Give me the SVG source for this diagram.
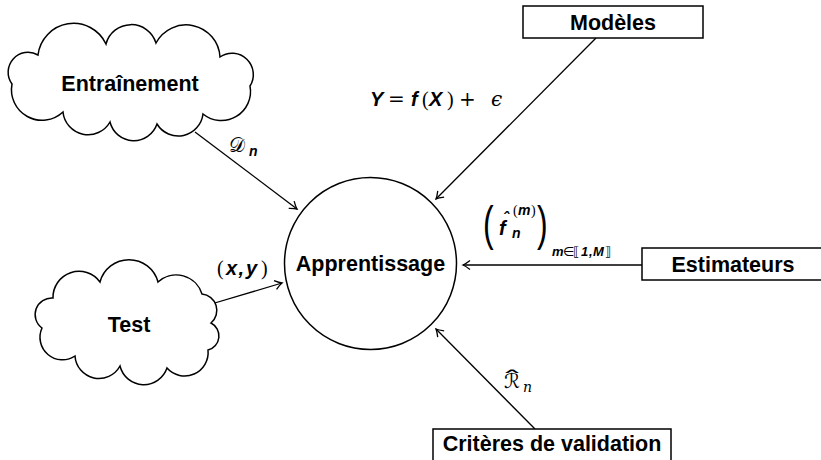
<svg xmlns="http://www.w3.org/2000/svg" width="821" height="460" viewBox="0 0 821 460">
<style>
.shape{fill:#fff;stroke:#000;stroke-width:1.5}
.edge{fill:none;stroke:#000;stroke-width:1.3}
.lbl{font-family:"Liberation Sans",Arial,sans-serif;font-weight:bold;font-size:21.5px;fill:#000}
.bi{font-family:"Liberation Sans",Arial,sans-serif;font-weight:bold;font-style:italic;fill:#000}
.rm{font-family:"Liberation Serif","DejaVu Serif",serif;fill:#000}
.op{font-family:"DejaVu Serif","Liberation Serif",serif;fill:#000}
.sans{font-family:"Liberation Sans",Arial,sans-serif;fill:#000}
.it{font-family:"DejaVu Serif","Liberation Serif",serif;font-style:italic;fill:#000}
.cal{font-family:"DejaVu Sans","Noto Sans",sans-serif;fill:#000}
</style>
<defs>
<marker id="arr" markerUnits="userSpaceOnUse" viewBox="-9 -6 11 12" refX="0" refY="0" markerWidth="11" markerHeight="12" orient="auto">
<path d="M-7,-4.5 Q-2.5,-1 0,0 Q-2.5,1 -7,4.5" fill="none" stroke="#000" stroke-width="1.3"/>
</marker>
</defs>
<rect width="821" height="460" fill="#fff"/>
<g id="connectors">
<line class="edge" x1="195" y1="132" x2="297" y2="209" marker-end="url(#arr)"/>
<line class="edge" x1="596" y1="38" x2="436" y2="199" marker-end="url(#arr)"/>
<line class="edge" x1="642" y1="265" x2="463" y2="265" marker-end="url(#arr)"/>
<line class="edge" x1="208" y1="305" x2="282" y2="283" marker-end="url(#arr)"/>
<line class="edge" x1="535" y1="429" x2="436" y2="329" marker-end="url(#arr)"/>
</g>
<g id="entrainement">
<path class="shape" d="M106,44 A26,26 0 0 1 156,43 A34,34 0 0 1 220,57 A21.3,21.3 0 0 1 250,86 A29.1,29.1 0 0 1 203,114 A24.9,24.9 0 0 1 157,124 A24.5,24.5 0 0 1 110,122 A25.2,25.2 0 0 1 63,112 A30.6,30.6 0 0 1 12,84 A19.9,19.9 0 0 1 38,55 A35.8,35.8 0 0 1 106,44 Z"/>
<text class="lbl" x="130" y="90.5" text-anchor="middle">Entraînement</text>
</g>
<g id="test">
<path class="shape" d="M53,298 A26,26 0 0 1 100,282 A30,30 0 0 1 158,282 A27,27 0 0 1 202,294 A16.5,16.5 0 0 1 211,323 A14.5,14.5 0 0 1 208,350 A23.5,23.5 0 0 1 167,368 A24.5,24.5 0 0 1 120,366 A24,24 0 0 1 75,356 A22.5,22.5 0 0 1 42,328 A16.6,16.6 0 0 1 53,298 Z"/>
<text class="lbl" x="129" y="332" text-anchor="middle">Test</text>
</g>
<g id="apprentissage">
<circle class="shape" cx="370.5" cy="263.5" r="86"/>
<text class="lbl" x="370.5" y="270.5" text-anchor="middle">Apprentissage</text>
</g>
<g id="modeles">
<rect class="shape" x="523" y="6" width="180" height="32"/>
<text class="lbl" x="613" y="29.5" text-anchor="middle">Modèles</text>
</g>
<g id="estimateurs">
<rect class="shape" x="642" y="248" width="182" height="32"/>
<text class="lbl" x="733" y="271.5" text-anchor="middle">Estimateurs</text>
</g>
<g id="criteres">
<rect class="shape" x="433" y="429" width="238" height="34"/>
<text class="lbl" x="552" y="451" text-anchor="middle">Critères de validation</text>
</g>
<g id="labels">
<text font-size="20" y="106"><tspan class="bi" x="370">Y</tspan><tspan class="op" x="388">=</tspan><tspan class="bi" x="411">f</tspan><tspan class="rm" x="422">(</tspan><tspan class="bi" x="429">X</tspan><tspan class="rm" x="447">)</tspan><tspan class="op" x="459">+</tspan><tspan class="it" x="491">ϵ</tspan></text>
<text y="152"><tspan class="cal" x="229" font-size="20">𝒟</tspan><tspan class="bi" x="249" y="156" font-size="14">n</tspan></text>
<text font-size="20" y="275"><tspan class="rm" x="217">(</tspan><tspan class="bi" x="226">x</tspan><tspan class="bi" x="238.5">,</tspan><tspan class="bi" x="246">y</tspan><tspan class="rm" x="261">)</tspan></text>
<text class="sans" font-size="32" transform="translate(483,240) scale(1,1.5)">(</text>
<text class="bi" x="499" y="235" font-size="20">f</text>
<text class="bi" x="506" y="224" font-size="16" text-anchor="middle">ˆ</text>
<text font-size="14" y="215"><tspan class="rm" x="513">(</tspan><tspan class="bi" x="518">m</tspan><tspan class="rm" x="531">)</tspan></text>
<text class="bi" x="512" y="238" font-size="14">n</text>
<text class="sans" font-size="32" transform="translate(537,240) scale(1,1.5)">)</text>
<text font-size="13" y="256"><tspan class="bi" x="552">m</tspan><tspan class="cal" x="563">∈</tspan><tspan class="cal" x="573">⟦</tspan><tspan class="bi" font-style="normal" x="581">1</tspan><tspan class="bi" font-style="normal" x="589">,</tspan><tspan class="bi" x="593">M</tspan><tspan class="cal" x="605">⟧</tspan></text>
<text class="cal" x="504" y="388" font-size="20">ℛ</text>
<text class="it" x="523" y="392" font-size="14">n</text>
<text class="cal" font-size="20" text-anchor="middle" transform="translate(512,385) scale(2.2,1)">ˆ</text>
</g>
</svg>
